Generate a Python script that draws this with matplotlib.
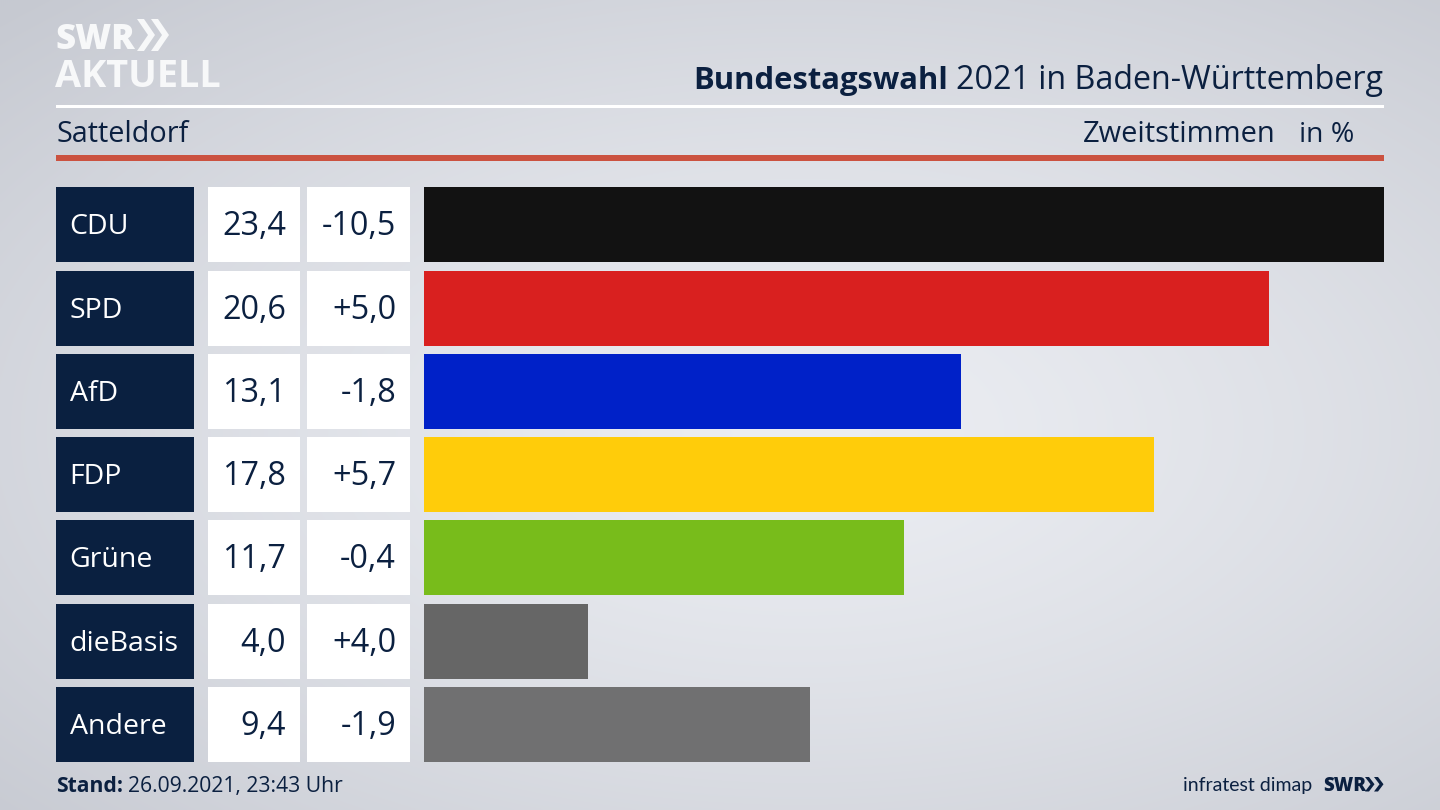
import numpy as np
import matplotlib
matplotlib.use("Agg")
import matplotlib.pyplot as plt
from matplotlib.patches import Rectangle, Polygon

parties = ["CDU", "SPD", "AfD", "FDP", "Grüne", "dieBasis", "Andere"]
shares = [23.4, 20.6, 13.1, 17.8, 11.7, 4.0, 9.4]
changes = ["-10,5", "+5,0", "-1,8", "+5,7", "-0,4", "+4,0", "-1,9"]
colors = ["#121212", "#d9201f", "#0021c8", "#ffcc0a", "#78bc1b", "#666666", "#707071"]

NAVY = "#0b2040"
W, H = 1440, 810
FONT = "Open Sans"
plt.rcParams["font.family"] = [FONT, "DejaVu Sans"]

fig = plt.figure(figsize=(14.4, 8.1), dpi=100)
bg = fig.add_axes([0, 0, 1, 1])
bg.set_xlim(0, W)
bg.set_ylim(H, 0)
bg.axis("off")

# vignette backdrop
yy, xx = np.mgrid[0:H:2, 0:W:2]
d = np.sqrt(((xx - 800) / 900) ** 2 + ((yy - 430) / 480) ** 2)
t = np.clip(d, 0, 1.25) / 1.25
light, dark = np.array([236, 238, 243]), np.array([198, 201, 209])
img = (light + (dark - light) * t[..., None] ** 1.3) / 255
bg.imshow(img, extent=(0, W, H, 0), aspect="auto", zorder=0, interpolation="bilinear")
bg.set_xlim(0, W)
bg.set_ylim(H, 0)

# header rules
bg.add_patch(Rectangle((56, 104.5), 1328, 3, color="white", zorder=1, lw=0))
bg.add_patch(Rectangle((56, 155), 1328, 5.5, color="#cb5240", zorder=1, lw=0))


def chevrons(xs, top, bottom, w, tip, color):
    mid = (top + bottom) / 2
    for x0 in xs:
        bg.add_patch(Polygon([(x0, top), (x0 + w, top), (x0 + w + tip, mid), (x0 + w, bottom),
                              (x0, bottom), (x0 + tip, mid)], color=color, lw=0, zorder=2))


# logo
LOGO_C = "#f7f8f9"
bg.text(55, 49, "SWR", color=LOGO_C, fontsize=25, fontweight="extra bold", fontstretch="condensed",
        va="baseline", ha="left", zorder=2)
chevrons((137, 151), 19, 51, 7, 11, LOGO_C)
bg.text(55, 87, "AKTUELL", color=LOGO_C, fontsize=27.3, fontweight="bold", fontstretch="condensed",
        va="baseline", ha="left", zorder=2)

# titles
t2 = bg.text(1383, 89, "2021 in Baden-Württemberg", color=NAVY, fontsize=23.25, va="baseline", ha="right")
fig.canvas.draw()
bb = t2.get_window_extent()
bg.text(bb.x0 - 8, 89, "Bundestagswahl", color=NAVY, fontsize=22.3, fontweight="bold", va="baseline", ha="right")
bg.text(56, 142, "Satteldorf", color=NAVY, fontsize=20.7, va="baseline", ha="left")
bg.text(1276, 142, "Zweitstimmen", color=NAVY, fontsize=20.9, va="baseline", ha="right")
bg.text(1354, 142, "in %", color=NAVY, fontsize=20.4, va="baseline", ha="right")

# table cells
for i, (p, s, c) in enumerate(zip(parties, shares, changes)):
    top = 187.3 + 83.25 * i
    base = top + 48
    bg.add_patch(Rectangle((56, top), 137.5, 75, color="#0a2040", lw=0, zorder=1))
    bg.add_patch(Rectangle((208, top), 92, 75, color="white", lw=0, zorder=1))
    bg.add_patch(Rectangle((307, top), 103, 75, color="white", lw=0, zorder=1))
    bg.text(69.5, top + 47, p, color="white", fontsize=20.5, va="baseline", ha="left", zorder=2)
    bg.text(286, base, f"{s:.1f}".replace(".", ","), color=NAVY, fontsize=23.3, va="baseline", ha="right", zorder=2)
    bg.text(396, base, c, color=NAVY, fontsize=23.3, va="baseline", ha="right", zorder=2)

# footer
st = bg.text(56, 792, "Stand:", color=NAVY, fontsize=15.2, fontweight="bold", va="baseline", ha="left")
fig.canvas.draw()
bb = st.get_window_extent()
bg.text(bb.x1 + 5, 792, "26.09.2021, 23:43 Uhr", color=NAVY, fontsize=15.2, va="baseline", ha="left")
bg.text(1312, 791, "infratest dimap", color=NAVY, fontsize=14, family="Lato", va="baseline", ha="right")
bg.text(1323.5, 791, "SWR", color=NAVY, fontsize=13.5, fontweight="extra bold", fontstretch="condensed",
        va="baseline", ha="left")
chevrons((1365, 1374), 777, 791.5, 4, 5.5, NAVY)

# bars
ax = fig.add_axes([424 / W, 1 - 762 / H, (1384 - 424) / W, (762 - 187.3) / H])
ax.patch.set_alpha(0)
ax.barh(range(len(shares)), shares, height=75 / 83.25, color=colors, linewidth=0)
ax.set_xlim(0, max(shares))
pad = (75 / 83.25) / 2
ax.set_ylim(len(shares) - 1 + pad, -pad)
ax.axis("off")

fig.savefig("out.png", dpi=100)
